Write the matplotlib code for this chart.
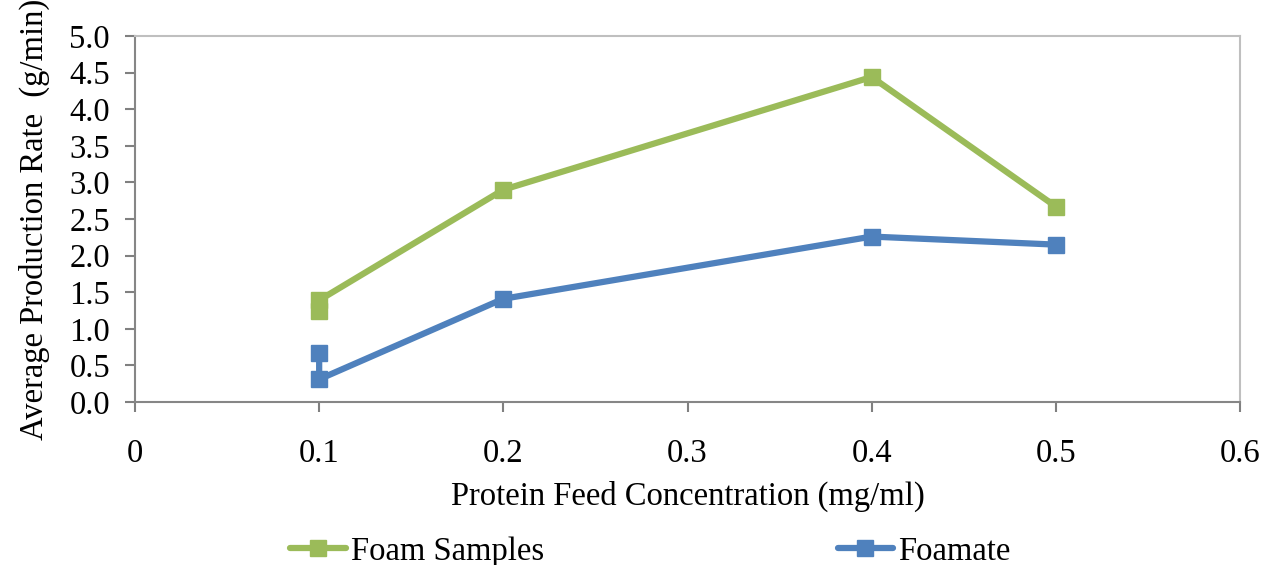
import matplotlib
matplotlib.use("Agg")
import matplotlib.pyplot as plt

x_foam = [0.1, 0.1, 0.2, 0.4, 0.5]
y_foam = [1.24, 1.39, 2.90, 4.44, 2.67]
x_foamate = [0.1, 0.1, 0.2, 0.4, 0.5]
y_foamate = [0.67, 0.31, 1.41, 2.26, 2.15]
xticks = [0, 0.1, 0.2, 0.3, 0.4, 0.5, 0.6]
xticklabels = ["0", "0.1", "0.2", "0.3", "0.4", "0.5", "0.6"]
yticks = [0.0, 0.5, 1.0, 1.5, 2.0, 2.5, 3.0, 3.5, 4.0, 4.5, 5.0]

plt.rcParams['font.family'] = ['Liberation Serif', 'DejaVu Serif']
fs = 23.5

fig = plt.figure(figsize=(12.75, 5.65), dpi=100)
ax = fig.add_axes([135/1275, 1 - 402/565, (1240-135)/1275, (402-36)/565])

green = '#9BBB59'
blue = '#4F81BD'
ax.plot(x_foam, y_foam, color=green, lw=4.5, marker='s', ms=12, label='Foam Samples', solid_capstyle='round')
ax.plot(x_foamate, y_foamate, color=blue, lw=4.5, marker='s', ms=12, label='Foamate', solid_capstyle='round')

ax.set_xlim(0, 0.6)
ax.set_ylim(0, 5.0)
ax.set_xticks(xticks)
ax.set_xticklabels(xticklabels)
ax.set_yticks(yticks)
ax.set_yticklabels([f"{v:.1f}" for v in yticks])
ax.tick_params(labelsize=fs, colors='#808080', labelcolor='black', direction='out', length=7, width=1.5, pad=11)
ax.tick_params(axis='x', pad=19)

for s in ['top', 'right']:
    ax.spines[s].set_color('#BFBFBF')
    ax.spines[s].set_linewidth(1.5)
for s in ['left', 'bottom']:
    ax.spines[s].set_color('#868686')
    ax.spines[s].set_linewidth(1.5)

ax.set_xlabel('Protein Feed Concentration (mg/ml)', fontsize=fs, labelpad=9)
ax.set_ylabel('Average Production Rate  (g/min)', fontsize=fs, labelpad=14)

fig.legend(loc='lower center', bbox_to_anchor=(0.51, -0.055), ncol=2, frameon=False,
           fontsize=fs, columnspacing=9, handlelength=1.7, handletextpad=0.15)

fig.savefig('out.png', dpi=100)
